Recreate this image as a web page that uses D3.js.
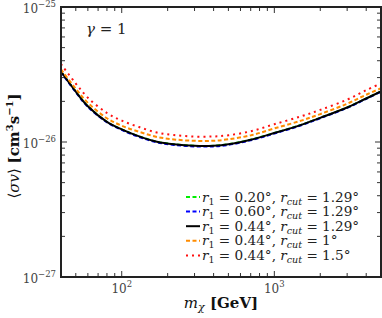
<!DOCTYPE html>
<html>
<head>
<meta charset="utf-8">
<script src="https://cdn.jsdelivr.net/npm/d3@7"></script>
<style>
  body { margin: 0; background: #fff; }
  svg text { font-family: "DejaVu Serif", "Liberation Serif", serif; }
</style>
</head>
<body>
<svg id="chart" width="382" height="318"></svg>
<script>
// masses in GeV
const masses = [40, 50, 60, 80, 100, 130, 170, 220, 300, 400, 500, 700, 1000, 1500, 2000, 3000, 4000, 5000]

// <sigma v> in units of 1e-26 cm^3 s^-1
const r020 = [3.32, 2.36, 1.84, 1.41, 1.24, 1.10, 1.005, 0.962, 0.937, 0.938, 0.962, 1.04, 1.165, 1.34, 1.51, 1.80, 2.10, 2.37]
const r060 = [3.29, 2.34, 1.82, 1.40, 1.23, 1.09, 0.995, 0.952, 0.927, 0.928, 0.952, 1.03, 1.155, 1.33, 1.50, 1.79, 2.09, 2.36]
const r044 = [3.32, 2.36, 1.84, 1.41, 1.24, 1.10, 1.005, 0.962, 0.937, 0.938, 0.962, 1.04, 1.165, 1.34, 1.51, 1.80, 2.10, 2.37]
const rcut1 = [3.45, 2.48, 1.95, 1.50, 1.32, 1.19, 1.09, 1.045, 1.02, 1.022, 1.047, 1.12, 1.26, 1.44, 1.61, 1.92, 2.24, 2.50]
const rcut15 = [3.78, 2.71, 2.13, 1.64, 1.44, 1.29, 1.175, 1.125, 1.097, 1.099, 1.122, 1.20, 1.355, 1.55, 1.73, 2.06, 2.42, 2.72]

const seriesNames = [
  ['0.20°', '1.29°'],
  ['0.60°', '1.29°'],
  ['0.44°', '1.29°'],
  ['0.44°', '1°'],
  ['0.44°', '1.5°']
]
const seriesColors = ['#00ee00', '#0000ff', '#000000', '#ff8c00', '#ff1010']
const seriesDash = ['4,2.5', '4,2.5', null, '4,2.5', '2,4']

const xTickLabels = [2, 3]      // 10^2, 10^3
const yTickLabels = [-27, -26, -25]

const width = 382, height = 318
const margin = { left: 61, right: 1, top: 7, bottom: 41 }

const svg = d3.select('#chart')

const xScale = d3.scaleLog()
  .domain([40, 5000])
  .range([margin.left, width - margin.right])
const yScale = d3.scaleLog()
  .domain([1e-27, 1e-25])
  .range([height - margin.bottom, margin.top])

const x0 = margin.left, x1 = width - margin.right
const y0 = height - margin.bottom, y1 = margin.top

// ticks (inward, on all four sides)
const xTicks = xScale.ticks()
const yTicks = yScale.ticks()
const isMajor = v => Math.abs(Math.log10(v) - Math.round(Math.log10(v))) < 1e-6
const ticks = svg.append('g').attr('stroke', '#333').attr('stroke-width', 1)
xTicks.forEach(v => {
  const len = isMajor(v) ? 6 : 4
  const x = xScale(v)
  ticks.append('line').attr('x1', x).attr('x2', x).attr('y1', y0).attr('y2', y0 - len)
  ticks.append('line').attr('x1', x).attr('x2', x).attr('y1', y1).attr('y2', y1 + len)
})
yTicks.forEach(v => {
  const len = isMajor(v) ? 6 : 4
  const y = yScale(v)
  ticks.append('line').attr('x1', x0).attr('x2', x0 + len).attr('y1', y).attr('y2', y)
  ticks.append('line').attr('x1', x1).attr('x2', x1 - len).attr('y1', y).attr('y2', y)
})

// curves
const line = d3.line()
  .x((d) => xScale(d[0]))
  .y((d) => yScale(d[1] * 1e-26))
  .curve(d3.curveCatmullRom)

const allSeries = [r020, r060, r044, rcut1, rcut15]
svg.append('defs').append('clipPath').attr('id', 'clip')
  .append('rect').attr('x', x0).attr('y', y1).attr('width', x1 - x0).attr('height', y0 - y1)

allSeries.forEach((vals, i) => {
  svg.append('path')
    .datum(masses.map((m, j) => [m, vals[j]]))
    .attr('clip-path', 'url(#clip)')
    .attr('d', line)
    .attr('fill', 'none')
    .attr('stroke', seriesColors[i])
    .attr('stroke-width', 2)
    .attr('stroke-dasharray', seriesDash[i])
})

// frame
svg.append('rect')
  .attr('x', x0).attr('y', y1)
  .attr('width', x1 - x0).attr('height', y0 - y1)
  .attr('fill', 'none').attr('stroke', '#222').attr('stroke-width', 2)

// tick labels
xTickLabels.forEach(p => {
  const t = svg.append('text')
    .attr('x', xScale(Math.pow(10, p)))
    .attr('y', 293)
    .attr('text-anchor', 'middle')
    .attr('font-size', 12)
    .attr('fill', '#444')
  t.append('tspan').text('10')
  t.append('tspan').attr('dy', -6).attr('font-size', 8.5).text(p)
})
yTickLabels.forEach(p => {
  const t = svg.append('text')
    .attr('x', 56)
    .attr('y', yScale(Math.pow(10, p)) + 6)
    .attr('text-anchor', 'end')
    .attr('font-size', 12)
    .attr('fill', '#444')
  t.append('tspan').text('10')
  t.append('tspan').attr('dy', -6).attr('font-size', 8.5).text('\u2212' + (-p))
})

// axis titles
const xt = svg.append('text')
  .attr('x', (x0 + x1) / 2)
  .attr('y', 308)
  .attr('text-anchor', 'middle')
  .attr('font-size', 15)
  .attr('fill', '#111')
xt.append('tspan').attr('font-style', 'italic').text('m')
xt.append('tspan').attr('font-style', 'italic').attr('font-size', 11).attr('dy', 3).text('χ')
xt.append('tspan').attr('dy', -3).attr('font-weight', 'bold').text(' [GeV]')

const yt = svg.append('text')
  .attr('transform', 'translate(19,146) rotate(-90)')
  .attr('text-anchor', 'middle')
  .attr('font-size', 15)
  .attr('fill', '#111')
yt.append('tspan').text('⟨')
yt.append('tspan').attr('font-style', 'italic').text('σv')
yt.append('tspan').text('⟩ ')
yt.append('tspan').attr('font-weight', 'bold').text('[cm')
yt.append('tspan').attr('font-weight', 'bold').attr('font-size', 10).attr('dy', -6).text('3')
yt.append('tspan').attr('font-weight', 'bold').attr('dy', 6).text('s')
yt.append('tspan').attr('font-weight', 'bold').attr('font-size', 10).attr('dy', -6).text('−1')
yt.append('tspan').attr('font-weight', 'bold').attr('dy', 6).text(']')

// gamma label
const g = svg.append('text').attr('x', 86).attr('y', 34).attr('font-size', 15).attr('fill', '#222')
g.append('tspan').attr('font-style', 'italic').text('γ')
g.append('tspan').text(' = 1')

// legend
const legend = svg.append('g')
seriesNames.forEach((n, i) => {
  const y = 197 + i * 14.6
  legend.append('line')
    .attr('x1', 186).attr('x2', 200).attr('y1', y).attr('y2', y)
    .attr('stroke', seriesColors[i]).attr('stroke-width', 2)
    .attr('stroke-dasharray', seriesDash[i])
  const t = legend.append('text').attr('x', 202).attr('y', y + 4.5).attr('font-size', 13.6).attr('fill', '#222')
  t.append('tspan').attr('font-style', 'italic').text('r')
  t.append('tspan').attr('font-size', 9.5).attr('dy', 3).text('1')
  t.append('tspan').attr('dy', -3).text(' = ' + n[0] + ', ')
  t.append('tspan').attr('font-style', 'italic').text('r')
  t.append('tspan').attr('font-style', 'italic').attr('font-size', 9.5).attr('dy', 3).text('cut')
  t.append('tspan').attr('dy', -3).text(' = ' + n[1])
})
</script>
</body>
</html>
